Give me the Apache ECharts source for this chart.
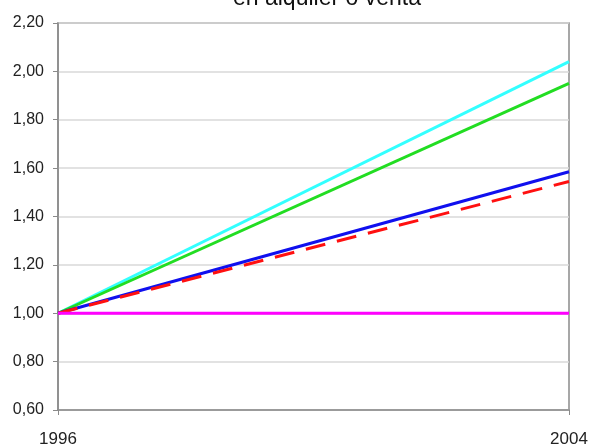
<!DOCTYPE html>
<html>
<head>
<meta charset="utf-8">
<script src="https://cdn.jsdelivr.net/npm/echarts@6/dist/echarts.min.js"></script>
<style>html,body{margin:0;padding:0;background:#fff;}#c{width:590px;height:446px;}</style>
</head>
<body>
<div id="c"></div>
<script>
var years = ['1996', '2004'];
var titleText = 'en alquiler o venta';
var cyanValues = [1.00, 2.04];
var greenValues = [1.00, 1.95];
var blueValues = [1.00, 1.585];
var redValues = [1.00, 1.545];
var magentaValues = [1.00, 1.00];
var yMin = 0.6, yMax = 2.2, yStep = 0.2;

var chart = echarts.init(document.getElementById('c'));
var font = 'Liberation Sans';
function line(name, data, color, type) {
  return {
    name: name, type: 'line', data: data, symbol: 'none', silent: true,
    lineStyle: { color: color, width: 3, type: type || 'solid' }
  };
}
chart.setOption({
  animation: false,
  backgroundColor: '#fff',
  graphic: [{
    type: 'text', left: 233, top: -13,
    style: { text: titleText, font: '23px "Liberation Sans"', fill: '#111' }
  }],
  grid: { left: 58, right: 21, top: 23, bottom: 36, show: true, borderColor: '#8a8a8a', borderWidth: 1.5,
    containLabel: false, outerBoundsMode: 'none' },
  xAxis: {
    type: 'category', data: years, boundaryGap: false,
    axisLine: { lineStyle: { color: '#8a8a8a', width: 1.5 } },
    axisTick: { show: true, length: 5, alignWithLabel: true, lineStyle: { color: '#8a8a8a' } },
    axisLabel: { color: '#222', fontFamily: font, fontSize: 17, margin: 21 },
    splitLine: { show: false }
  },
  yAxis: {
    type: 'value', min: yMin, max: yMax, interval: yStep,
    axisLine: { show: true, lineStyle: { color: '#8a8a8a', width: 1.5 } },
    axisTick: { show: true, length: 5, lineStyle: { color: '#8a8a8a' } },
    axisLabel: { color: '#222', fontFamily: font, fontSize: 16, margin: 14,
      formatter: function (v) { return v.toFixed(2).replace('.', ','); } },
    splitLine: { show: true, lineStyle: { color: '#d9d9d9', width: 1.5 } }
  },
  series: [
    line('cyan', cyanValues, '#33ffff'),
    line('green', greenValues, '#22dd22'),
    line('blue', blueValues, '#1010ee'),
    line('red', redValues, '#ff1010', [20, 12]),
    line('magenta', magentaValues, '#ff00ff')
  ]
});
</script>
</body>
</html>
